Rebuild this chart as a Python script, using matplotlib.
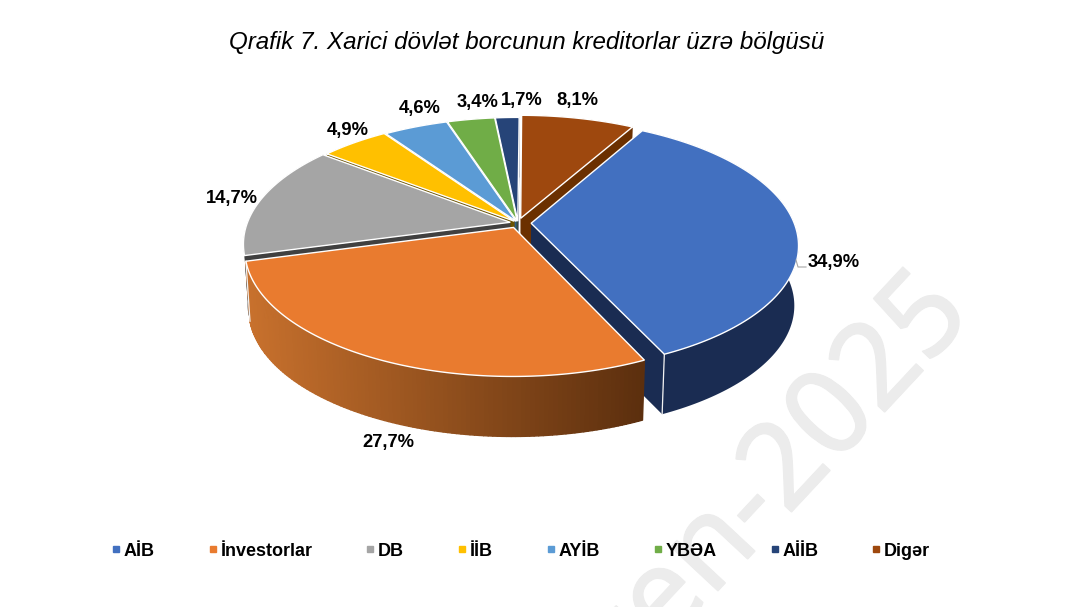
import numpy as np
import matplotlib
matplotlib.use('Agg')
import matplotlib.pyplot as plt
import matplotlib.patheffects as pe
from matplotlib.collections import PolyCollection
from matplotlib.colors import to_rgb
from matplotlib.lines import Line2D

plt.rcParams['font.family'] = ['Liberation Sans', 'DejaVu Sans']

title = 'Qrafik 7. Xarici dövlət borcunun kreditorlar üzrə bölgüsü'
creditors = ['AİB', 'İnvestorlar', 'DB', 'İİB', 'AYİB', 'YBƏA', 'AİİB', 'Digər']
shares = [34.9, 27.7, 14.7, 4.9, 4.6, 3.4, 1.7, 8.1]

colors = ['#4270C0', '#E97B2F', '#A5A5A5', '#FFC000', '#5B9BD5', '#70AD47', '#264478', '#9E480E']
wall_left = ['#1A2C52', '#C8712D', '#404040', '#6B5200', '#2F5D8A', '#3D5A28', '#14223C', '#6B3000']
wall_right = ['#1A2C52', '#5C2F0E', '#404040', '#6B5200', '#2F5D8A', '#3D5A28', '#14223C', '#6B3000']
explode = [0.05, 0.04, 0.03, 0.02, 0.015, 0.015, 0.015, 0.04]
label_xy = [(834, 263), (388, 442), (232, 198), (348, 130), (420, 109), (478, 103), (522, 101), (577, 100)]

# pie projection, in pixels
cx, cy = 518, 223
rx, ry = 263, 122
persp = 0.17
depth = 60
shrink = 0.985
start_angle = 29.5


def project(u, v):
    s = 1 / (1 - persp * v)
    return cx + rx * u * s, cy + ry * v * s


def lower(x, y):
    return cx + (x - cx) * shrink, y + depth


fig = plt.figure(figsize=(10.79, 6.07), dpi=100)
ax = fig.add_axes([0, 0, 1, 1])
ax.set_xlim(0, 1079)
ax.set_ylim(607, 0)
ax.axis('off')

# watermark behind everything
ax.text(974, 316, 'ten-2025', color='#ECECEC', fontsize=86, family='Noto Sans',
        rotation=47, rotation_mode='anchor', ha='right', va='baseline', zorder=0,
        path_effects=[pe.withStroke(linewidth=1.2, foreground='#ECECEC')])

edges = np.cumsum([0] + shares) / sum(shares) * 360 + start_angle
mids = (edges[:-1] + edges[1:]) / 2
mid_v = -np.cos(np.radians(mids))

for i in np.argsort(mid_v):
    th = np.radians(np.linspace(edges[i], edges[i + 1], 120))
    du = explode[i] * np.sin(np.radians(mids[i]))
    dv = -explode[i] * np.cos(np.radians(mids[i]))
    ax_, ay_ = project(du, dv)
    x, y = project(du + np.sin(th), dv - np.cos(th))
    bx, by = lower(x, y)
    abx, aby = lower(ax_, ay_)

    # cut faces
    ax.fill([ax_, x[0], bx[0], abx], [ay_, y[0], by[0], aby], color=wall_left[i], lw=0, zorder=2)
    ax.fill([ax_, x[-1], bx[-1], abx], [ay_, y[-1], by[-1], aby], color=wall_right[i], lw=0, zorder=2)

    # outer wall, only the orange one is shaded from left to right
    if i == 1:
        quads = [[(x[j], y[j]), (x[j + 1], y[j + 1]), (bx[j + 1], by[j + 1]), (bx[j], by[j])]
                 for j in range(len(x) - 1)]
        t = (x[:-1] - x.min()) / (x.max() - x.min())
        c0, c1 = np.array(to_rgb(wall_left[i])), np.array(to_rgb(wall_right[i]))
        shade = [tuple(c0 + (c1 - c0) * a) for a in t]
        ax.add_collection(PolyCollection(quads, facecolors=shade, edgecolors=shade, linewidths=1.0, zorder=2))
    else:
        ax.fill(np.r_[x, bx[::-1]], np.r_[y, by[::-1]], color=wall_left[i], lw=0, zorder=2)
    if i < 2:
        ax.plot([x[-1], bx[-1]], [y[-1], by[-1]], color='#F2F2F2', lw=0.9, zorder=2)

    # top face
    ax.fill(np.r_[ax_, x], np.r_[ay_, y], facecolor=colors[i], edgecolor='white', lw=1.0,
            joinstyle='miter', zorder=2)

for name, val, (lx, ly) in zip(creditors, shares, label_xy):
    ax.text(lx, ly, f'{val:.1f}%'.replace('.', ','), fontsize=13.2, fontweight='bold',
            ha='center', va='center', color='black', zorder=3)

# leader line of the first label
ax.plot([796, 798, 806], [260, 267, 267], color='#A6A6A6', lw=0.8, zorder=3)

ax.text(527, 43, title, fontsize=17.4, style='italic', ha='center', va='center', color='black')

handles = [Line2D([], [], ls='none', marker='s', ms=4.0, color=c, label=n)
           for n, c in zip(creditors, colors)]
leg = ax.legend(handles=handles, ncols=8, loc='center', bbox_to_anchor=(521 / 1079, 1 - 551 / 607),
                frameon=False, handlelength=0.45, handletextpad=0.2, columnspacing=2.99,
                borderpad=0, prop={'size': 13, 'weight': 'bold'})
leg.set_zorder(3)

fig.savefig('out.png', dpi=100)
